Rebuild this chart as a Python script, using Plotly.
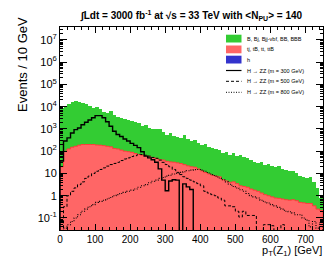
import plotly.graph_objects as go

# ---------------- data (10 GeV bins, 0-750 GeV) ----------------
bin_edges = list(range(0, 760, 10))
bin_centers = [e + 5 for e in bin_edges[:-1]]

# tj, tB, tt, ttB (red, bottom of stack)
bkg_top = [20, 100, 126, 151, 166, 186, 200, 200, 200, 200,
           190, 186, 178, 166, 158, 132, 126, 112, 100, 95,
           89, 79, 71, 66, 60, 56, 52, 48, 42, 40,
           35, 33, 32, 30, 28, 25, 22, 20, 19, 16,
           13, 11, 9.5, 8.3, 7.6, 7.1, 5.2, 4.6, 4.0, 4.2,
           3.5, 2.8, 2.6, 2.4, 2.0, 1.78, 1.58, 1.32, 1.12, 1.0,
           0.89, 0.79, 0.76, 0.71, 0.66, 0.63, 0.66, 0.6, 0.5, 0.48,
           0.45, 0.45, 0.35, 0.25, 0.22]

# B, Bj, Bjj-vbf, BB, BBB (green, stacked on top)
bkg_B = [8900, 11100, 13100, 16400, 17600, 15600, 14900, 12400, 10300, 8700,
         9360, 7750, 5440, 4840, 6450, 4040, 3420, 3050, 2720, 2420,
         2150, 1920, 1840, 1340, 1520, 1060, 948, 907, 958, 668,
         527, 598, 469, 417, 370, 500, 333, 262, 297, 208,
         187, 198, 149, 133, 118, 105, 74, 84, 67, 75,
         59.5, 63, 53.4, 47.6, 39.7, 29.8, 26.6, 30.3, 24, 25.3,
         21.5, 19.2, 21.6, 15.1, 13.4, 12, 12.5, 9.4, 7.44, 6.6,
         5.86, 6.63, 3.63, 1.99, 0.57]

# H -> ZZ signals
sig_300 = [36, 288, 398, 661, 933, 1100, 1550, 2000, 2510, 3160,
           3980, 3980, 3160, 2090, 1320, 794, 562, 457, 355, 288,
           224, 182, 145, 95, 60, 50, 41, 32, 16, 5,
           1.66, 4.6, 5.2, 5.0, 0, 3.4, 2.5, 1.9, 0, 0,
           0, 0, 0, 0, 0, 0, 0, 0, 0, 0,
           0, 0, 0, 0, 0, 0, 0, 0, 0, 0,
           0, 0, 0, 0, 0, 0, 0, 0, 0, 0,
           0, 0, 0, 0, 0]
sig_500 = [0, 0.32, 1.0, 1.58, 2.24, 3.16, 4.17, 6.0, 7.6, 10,
           12.6, 15.1, 17.8, 21.4, 25.1, 28.2, 31.6, 38, 44.7, 50,
           57.5, 63, 72.4, 70.8, 66, 60, 52.5, 47.9, 39.8, 31.6,
           25.1, 20, 15.1, 11.2, 8.9, 7.1, 6.0, 5.0, 4.2, 3.5,
           2.8, 1.58, 1.32, 1.12, 1.0, 0.79, 0.63, 0.35, 0.35, 0.32,
           0.2, 0.11, 0.2, 0.13, 0.13, 0.13, 0, 0, 0.05, 0.05,
           0.045, 0, 0, 0.05, 0, 0, 0, 0, 0, 0,
           0, 0, 0, 0, 0]
sig_800 = [0, 0.035, 0.05, 0.07, 0.1, 0.14, 0.2, 0.25, 0.32, 0.4,
           0.5, 0.56, 0.63, 0.71, 0.83, 1.0, 1.12, 1.26, 1.41, 1.58,
           1.78, 2.0, 2.4, 2.8, 3.16, 3.8, 4.5, 5.0, 6.0, 6.6,
           7.6, 8.3, 9.5, 10, 11.2, 12, 13.2, 14.1, 14.8, 15.1,
           14.1, 12.6, 10.5, 8.9, 7.6, 6.3, 5.2, 4.2, 3.3, 2.6,
           2.24, 1.86, 1.58, 1.26, 1.0, 0.89, 0.79, 0.63, 0.52, 0.47,
           0.4, 0.35, 0.3, 0.25, 0.2, 0.19, 0.17, 0.14, 0.14, 0.1,
           0.08, 0.04, 0.07, 0.035, 0.063]

legend_labels = ["B, Bj, Bjj-vbf, BB, BBB", "tj, tB, tt, ttB", "h",
                 "H \u2192 ZZ (m = 300 GeV)", "H \u2192 ZZ (m = 500 GeV)",
                 "H \u2192 ZZ (m = 800 GeV)"]
ytick_vals = [0.1, 1, 10, 100, 1e3, 1e4, 1e5, 1e6, 1e7]
ytick_text = ["10<sup>-1</sup>", "1", "10", "10<sup>2</sup>", "10<sup>3</sup>",
              "10<sup>4</sup>", "10<sup>5</sup>", "10<sup>6</sup>", "10<sup>7</sup>"]

GREEN = "rgb(51,204,51)"
RED = "rgb(255,102,102)"
BLUE = "rgb(51,51,204)"
FLOOR = 1e-4

fig = go.Figure()
fig.add_trace(go.Bar(x=bin_centers, y=bkg_top, width=10, marker=dict(color=RED, line=dict(width=0)),
                     showlegend=False))
fig.add_trace(go.Bar(x=bin_centers, y=bkg_B, width=10, marker=dict(color=GREEN, line=dict(width=0)),
                     showlegend=False))


def step(vals):
    xs = [bin_edges[0]] + bin_edges[:-1] + [bin_edges[-1], bin_edges[-1]]
    v = [max(a, FLOOR) for a in vals]
    ys = [FLOOR] + v + [v[-1], FLOOR]
    return xs, ys


# red outline along top of red area
xs, ys = step(bkg_top)
fig.add_trace(go.Scatter(x=xs, y=ys, mode="lines", line=dict(shape="hv", color="rgb(255,60,60)", width=1),
                         showlegend=False, hoverinfo="skip"))

for vals, dash, w in [(sig_300, "solid", 1.4), (sig_500, "3px,2px", 1.0), (sig_800, "1px,1.5px", 1.1)]:
    xs, ys = step(vals)
    fig.add_trace(go.Scatter(x=xs, y=ys, mode="lines",
                             line=dict(shape="hv", color="black", width=w, dash=dash),
                             showlegend=False, hoverinfo="skip"))

# ---------------- layout ----------------
L, R, T, B = 52, 17, 19, 35
W, H = 332, 257
pw, ph = W - L - R, H - T - B


def px(x):
    return (x - L) / pw


def py(y):
    return (H - B - y) / ph


shapes = []
annotations = []
# legend boxes
box_rows = [(26.7, 34.5, GREEN), (37.5, 45.3, RED), (47.7, 55.5, BLUE)]
for (y0, y1, c), lab in zip(box_rows, legend_labels[:3]):
    shapes.append(dict(type="rect", xref="paper", yref="paper", x0=px(218), x1=px(233.5),
                       y0=py(y1), y1=py(y0), fillcolor=c, line=dict(width=0)))
    annotations.append(dict(text=lab, xref="paper", yref="paper", x=px(236.5), y=py((y0 + y1) / 2),
                            xanchor="left", yanchor="middle", showarrow=False,
                            font=dict(size=5.5, family="Liberation Sans", color="black")))
for yy, dash, lab, w in [(62.5, "solid", legend_labels[3], 1.2), (73.3, "3px,2px", legend_labels[4], 1.0),
                         (84.3, "1px,1.5px", legend_labels[5], 1.0)]:
    shapes.append(dict(type="line", xref="paper", yref="paper", x0=px(218), x1=px(233.5),
                       y0=py(yy), y1=py(yy), line=dict(color="black", width=w, dash=dash)))
    annotations.append(dict(text=lab, xref="paper", yref="paper", x=px(236.5), y=py(yy),
                            xanchor="left", yanchor="middle", showarrow=False,
                            font=dict(size=5.5, family="Liberation Sans", color="black")))

# title
annotations.append(dict(text="<b>\u222BLdt = 3000 fb<sup>-1</sup> at \u221As = 33 TeV with &lt;N<sub>PU</sub>&gt; = 140</b>",
                        xref="paper", yref="paper", x=px(183), y=py(8), xanchor="center", yanchor="middle",
                        showarrow=False, font=dict(size=10, family="Liberation Sans", color="black")))
# axis titles
annotations.append(dict(text="Events / 10 GeV", xref="paper", yref="paper", x=px(14), y=py(57),
                        xanchor="center", yanchor="middle", textangle=-90, showarrow=False,
                        font=dict(size=13, family="Liberation Sans", color="black")))
annotations.append(dict(text="p<sub>T</sub>(Z<sub>1</sub>) [GeV]", xref="paper", yref="paper", x=px(316), y=py(242.8),
                        xanchor="right", yanchor="middle", showarrow=False,
                        font=dict(size=11, family="Liberation Sans", color="black")))

fig.update_layout(
    width=W, height=H,
    margin=dict(l=L, r=R, t=T, b=B, pad=0),
    paper_bgcolor="white", plot_bgcolor="white",
    barmode="stack", bargap=0,
    showlegend=False,
    shapes=shapes, annotations=annotations,
    font=dict(family="Liberation Sans", color="black"),
    xaxis=dict(range=[0, 750], showgrid=False, zeroline=False, showline=True, linecolor="black", linewidth=1,
               mirror="allticks", ticks="inside", ticklen=6, tickcolor="black", dtick=100, tick0=0,
               tickfont=dict(size=10), minor=dict(ticks="inside", ticklen=3, dtick=20, tickcolor="black")),
    yaxis=dict(type="log", range=[-1.54, 7.58], showgrid=False, zeroline=False, showline=True, linecolor="black",
               linewidth=1, mirror="allticks", ticks="inside", ticklen=7, tickcolor="black",
               tickvals=ytick_vals, ticktext=ytick_text, tickfont=dict(size=11),
               minor=dict(ticks="inside", ticklen=3, dtick="D1", tickcolor="black")),
)

fig.write_html("out.html")
